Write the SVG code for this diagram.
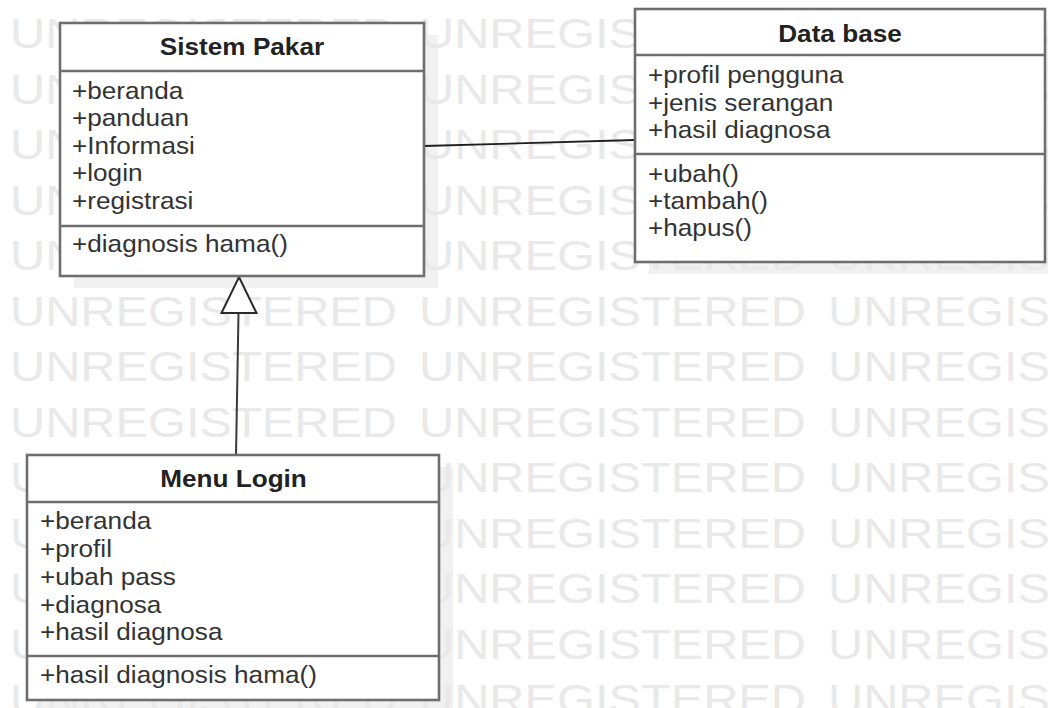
<svg xmlns="http://www.w3.org/2000/svg" xmlns:xlink="http://www.w3.org/1999/xlink" width="1048" height="708" viewBox="0 0 1048 708">
  <style>
    .wm { font-family: "Liberation Sans", Arial, sans-serif; font-size: 43px; fill: #e9e9e9; }
    .shadow { fill: #f1f1f1; }
    .box { fill: #ffffff; stroke: #6e6e6e; stroke-width: 2.6; }
    .div { stroke: #6e6e6e; stroke-width: 2.6; }
    .hdr { font-family: "Liberation Sans", Arial, sans-serif; font-size: 24px; font-weight: bold; fill: #222; text-anchor: middle; }
    .attr { font-family: "Liberation Sans", Arial, sans-serif; font-size: 24px; fill: #333; }
    .assoc { stroke: #1e1e1e; stroke-width: 1.8; fill: none; }
    .gen { stroke: #3a3a3a; stroke-width: 2; fill: none; }
    .tri { fill: #ffffff; stroke: #2a2a2a; stroke-width: 2; stroke-linejoin: miter; }
  </style>
  <defs>
    <g id="wm-row">
      <text class="wm" x="10" textLength="387" lengthAdjust="spacingAndGlyphs">UNREGISTERED</text>
      <text class="wm" x="419" textLength="387" lengthAdjust="spacingAndGlyphs">UNREGISTERED</text>
      <text class="wm" x="828" textLength="387" lengthAdjust="spacingAndGlyphs">UNREGISTERED</text>
    </g>
  </defs>

  <rect width="1048" height="708" fill="#ffffff"/>

  <!-- drop shadows of the class boxes -->
  <g id="shadows">
    <rect class="shadow" x="74" y="35" width="364" height="253"/>
    <rect class="shadow" x="649" y="21" width="410" height="253"/>
    <rect class="shadow" x="41" y="467" width="412" height="245"/>
  </g>

  <!-- evaluation watermark rows -->
  <g id="watermark">
    <use xlink:href="#wm-row" y="48"/>
    <use xlink:href="#wm-row" y="103.5"/>
    <use xlink:href="#wm-row" y="159"/>
    <use xlink:href="#wm-row" y="214.5"/>
    <use xlink:href="#wm-row" y="270"/>
    <use xlink:href="#wm-row" y="325.5"/>
    <use xlink:href="#wm-row" y="381"/>
    <use xlink:href="#wm-row" y="436.5"/>
    <use xlink:href="#wm-row" y="492"/>
    <use xlink:href="#wm-row" y="547.5"/>
    <use xlink:href="#wm-row" y="603"/>
    <use xlink:href="#wm-row" y="658.5"/>
    <use xlink:href="#wm-row" y="714"/>
  </g>

  <!-- connectors -->
  <g id="connectors">
    <line class="assoc" x1="424" y1="146" x2="635" y2="140"/>
    <line class="gen" x1="236" y1="455" x2="238.5" y2="313"/>
    <polygon class="tri" points="239,277 256.5,313 221.5,313"/>
  </g>

  <!-- class: Sistem Pakar -->
  <g id="sistem-pakar">
    <rect class="box" x="60" y="23" width="364" height="253"/>
    <line class="div" x1="60" y1="71" x2="424" y2="71"/>
    <line class="div" x1="60" y1="226" x2="424" y2="226"/>
    <g transform="translate(242 0) scale(1.09 1)">
      <text class="hdr" x="0" y="55">Sistem Pakar</text>
    </g>
    <g transform="translate(72 0) scale(1.09 1)">
      <text class="attr" x="0" y="99">+beranda</text>
      <text class="attr" x="0" y="126.5">+panduan</text>
      <text class="attr" x="0" y="154">+Informasi</text>
      <text class="attr" x="0" y="181.5">+login</text>
      <text class="attr" x="0" y="209">+registrasi</text>
      <text class="attr" x="0" y="252">+diagnosis hama()</text>
    </g>
  </g>

  <!-- class: Data base -->
  <g id="data-base">
    <rect class="box" x="635" y="9" width="410" height="253"/>
    <line class="div" x1="635" y1="55" x2="1045" y2="55"/>
    <line class="div" x1="635" y1="154" x2="1045" y2="154"/>
    <g transform="translate(840 0) scale(1.09 1)">
      <text class="hdr" x="0" y="42">Data base</text>
    </g>
    <g transform="translate(648 0) scale(1.09 1)">
      <text class="attr" x="0" y="83.5">+profil pengguna</text>
      <text class="attr" x="0" y="111">+jenis serangan</text>
      <text class="attr" x="0" y="138.5">+hasil diagnosa</text>
      <text class="attr" x="0" y="182">+ubah()</text>
      <text class="attr" x="0" y="209">+tambah()</text>
      <text class="attr" x="0" y="236.5">+hapus()</text>
    </g>
  </g>

  <!-- class: Menu Login -->
  <g id="menu-login">
    <rect class="box" x="27" y="455" width="412" height="245"/>
    <line class="div" x1="27" y1="502" x2="439" y2="502"/>
    <line class="div" x1="27" y1="656" x2="439" y2="656"/>
    <g transform="translate(233.5 0) scale(1.09 1)">
      <text class="hdr" x="0" y="487">Menu Login</text>
    </g>
    <g transform="translate(40 0) scale(1.09 1)">
      <text class="attr" x="0" y="529">+beranda</text>
      <text class="attr" x="0" y="557">+profil</text>
      <text class="attr" x="0" y="585">+ubah pass</text>
      <text class="attr" x="0" y="613">+diagnosa</text>
      <text class="attr" x="0" y="640">+hasil diagnosa</text>
      <text class="attr" x="0" y="683">+hasil diagnosis hama()</text>
    </g>
  </g>
</svg>
